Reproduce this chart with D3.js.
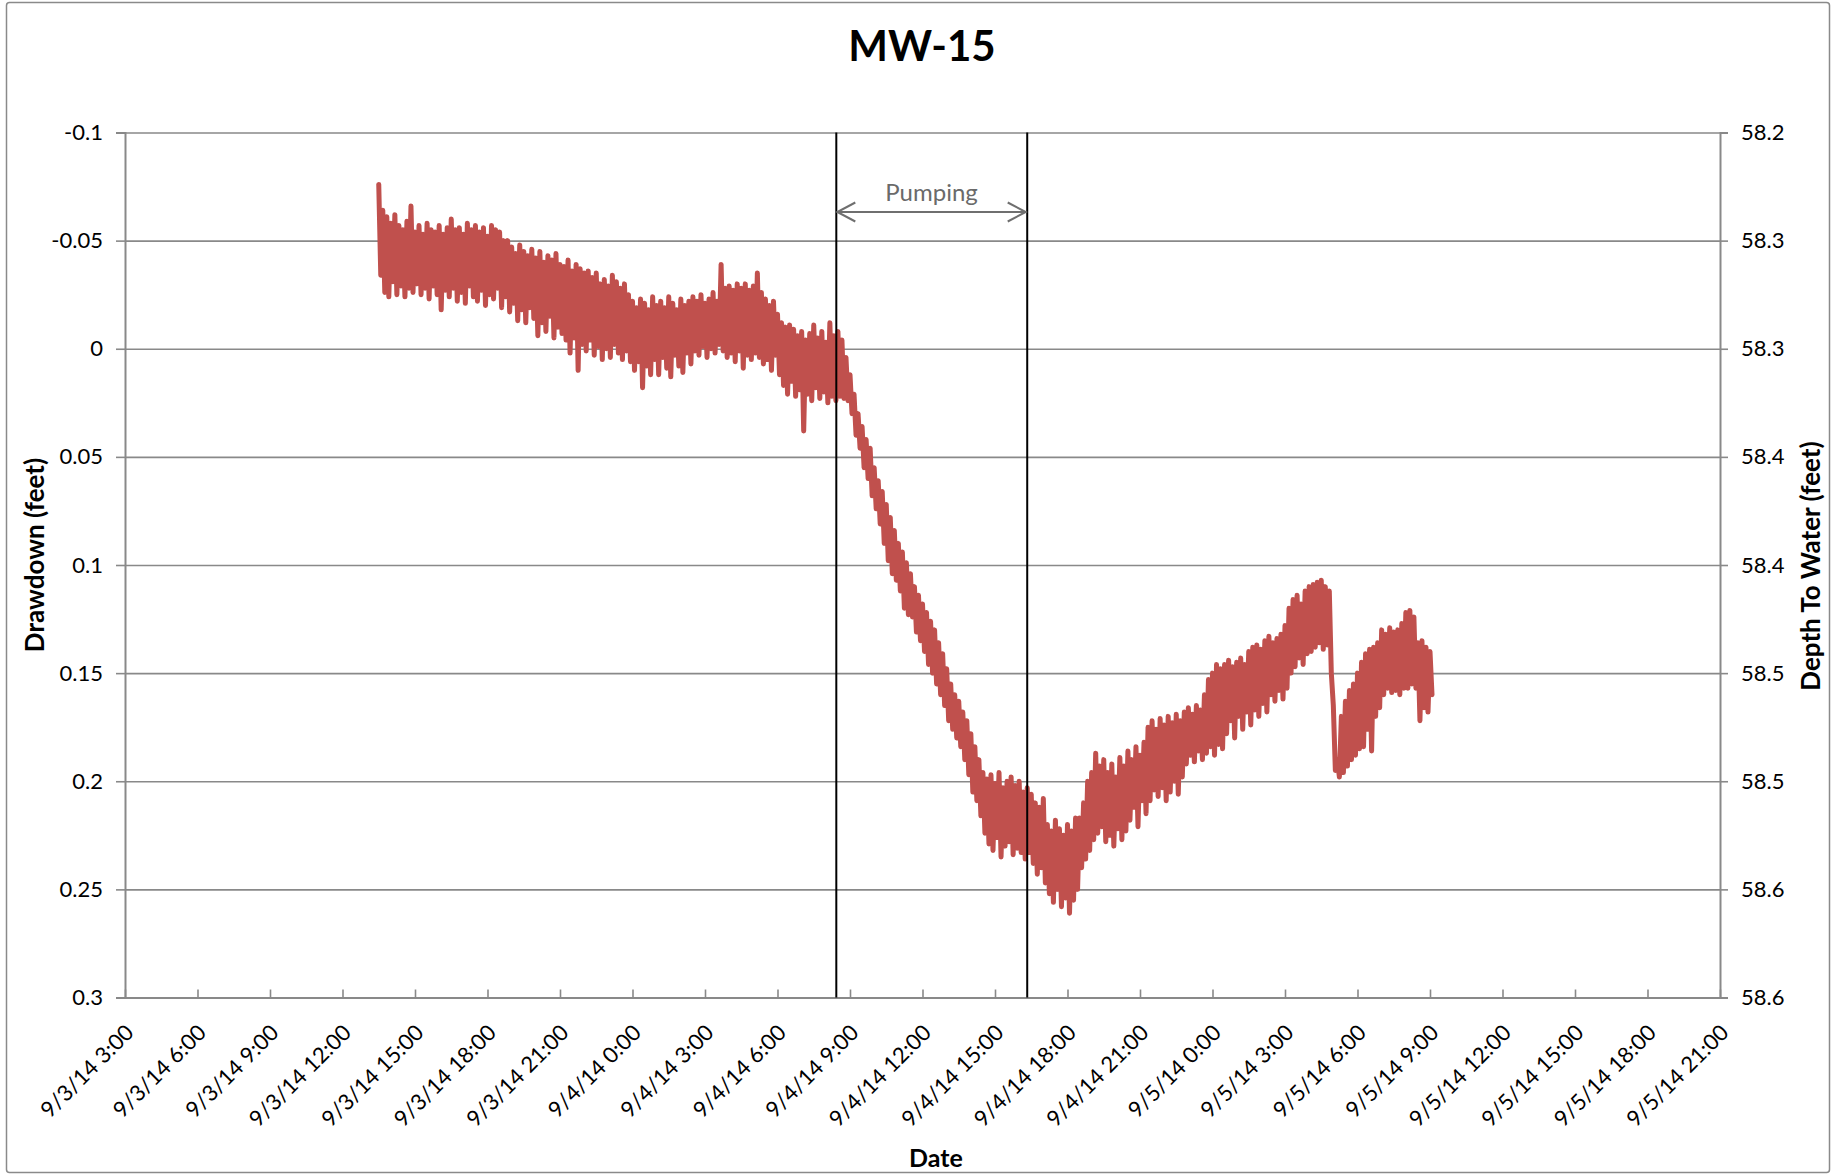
<!DOCTYPE html>
<html><head><meta charset="utf-8">
<script src="https://cdn.jsdelivr.net/npm/d3@7"></script>
<style>
body{margin:0;background:#fff}
svg{display:block}
text{font-family:Lato,"Open Sans",sans-serif}
</style>
</head><body>
<svg id="chart" width="1835" height="1176"></svg>
<script>
const chartTitle = "MW-15";
const xAxisTitle = "Date";
const leftAxisTitle = "Drawdown (feet)";
const rightAxisTitle = "Depth To Water (feet)";
const xTickLabels = ["9/3/14 3:00","9/3/14 6:00","9/3/14 9:00","9/3/14 12:00","9/3/14 15:00","9/3/14 18:00","9/3/14 21:00",
  "9/4/14 0:00","9/4/14 3:00","9/4/14 6:00","9/4/14 9:00","9/4/14 12:00","9/4/14 15:00","9/4/14 18:00","9/4/14 21:00",
  "9/5/14 0:00","9/5/14 3:00","9/5/14 6:00","9/5/14 9:00","9/5/14 12:00","9/5/14 15:00","9/5/14 18:00","9/5/14 21:00"];
const leftTickLabels = ["-0.1","-0.05","0","0.05","0.1","0.15","0.2","0.25","0.3"];
const rightTickValues = [58.2,58.25,58.3,58.35,58.4,58.45,58.5,58.55,58.6];
const rightTickLabels = ["58.2","58.3","58.3","58.4","58.4","58.5","58.5","58.6","58.6"];
const pumpingPeriod = ["9/4/14 8:26","9/4/14 16:20"];
const pumpingLabel = "Pumping";
const sampleMinutes = 5;
const seriesStarts = ["9/3/14 13:30","9/4/14 0:00","9/5/14 0:00"];
// drawdown readings (feet), every 5 minutes
const drawdown_0903 = [
 -0.076,-0.034,-0.064,-0.026,-0.061,-0.024,-0.058,-0.031,-0.062,-0.025,
 -0.057,-0.029,-0.055,-0.024,-0.059,-0.028,-0.066,-0.026,-0.054,-0.030,
 -0.057,-0.025,-0.053,-0.028,-0.058,-0.023,-0.055,-0.029,-0.054,-0.025,
 -0.057,-0.018,-0.053,-0.027,-0.056,-0.024,-0.060,-0.028,-0.055,-0.022,
 -0.056,-0.026,-0.053,-0.021,-0.058,-0.029,-0.055,-0.024,-0.057,-0.022,
 -0.054,-0.027,-0.056,-0.020,-0.052,-0.025,-0.057,-0.023,-0.055,-0.028,
 -0.054,-0.019,-0.050,-0.024,-0.050,-0.017,-0.047,-0.021,-0.044,-0.013,
 -0.048,-0.018,-0.045,-0.012,-0.043,-0.019,-0.046,-0.014,-0.042,-0.006,
 -0.045,-0.012,-0.040,-0.008,-0.043,-0.015,-0.041,-0.005,-0.044,-0.010,
 -0.039,-0.007,-0.038,-0.004,-0.041,0.002,-0.036,-0.005,-0.039,0.010,
 -0.037,-0.002,-0.035,0.001,-0.036,-0.004,-0.033,0.003,-0.035,-0.001,
 -0.030,0.005,-0.032,0.000,-0.029,0.004,-0.034,-0.002,-0.031,0.002,
 -0.028,0.005,-0.030,0.001,-0.025,0.006];
const drawdown_0904 = [
 -0.022,0.010,-0.019,0.006,-0.023,0.018,-0.021,0.008,-0.018,0.012,
 -0.024,0.005,-0.020,0.012,-0.022,0.004,-0.019,0.009,-0.024,0.013,
 -0.021,0.003,-0.018,0.008,-0.023,0.011,-0.020,0.002,-0.022,0.007,
 -0.024,0.001,-0.022,0.003,-0.025,-0.001,-0.021,0.004,-0.023,0.000,
 -0.026,0.002,-0.022,-0.002,-0.039,0.001,-0.028,0.004,-0.029,0.002,
 -0.027,0.006,-0.030,0.001,-0.028,0.009,-0.030,0.003,-0.027,0.005,
 -0.029,0.002,-0.035,0.004,-0.026,0.007,-0.023,0.005,-0.020,0.010,
 -0.022,0.003,-0.016,0.012,-0.012,0.017,-0.010,0.021,-0.011,0.015,
 -0.009,0.022,-0.006,0.019,-0.008,0.038,-0.004,0.021,-0.007,0.024,
 -0.011,0.018,-0.005,0.023,-0.008,0.020,-0.003,0.025,-0.012,0.022,
 -0.006,0.024,-0.008,0.022,-0.004,0.023,0.004,0.024,0.012,0.030,
 0.021,0.040,0.030,0.046,0.036,0.055,0.042,0.060,0.046,0.068,
 0.055,0.074,0.061,0.081,0.066,0.090,0.072,0.098,0.078,0.104,
 0.084,0.107,0.090,0.112,0.094,0.120,0.099,0.123,0.104,0.124,
 0.110,0.131,0.114,0.135,0.118,0.140,0.122,0.146,0.126,0.150,
 0.130,0.155,0.136,0.160,0.141,0.165,0.148,0.172,0.155,0.176,
 0.160,0.180,0.163,0.184,0.168,0.190,0.172,0.197,0.178,0.205,
 0.184,0.209,0.190,0.216,0.196,0.224,0.199,0.229,0.197,0.232,
 0.201,0.226,0.196,0.235,0.203,0.230,0.200,0.228,0.198,0.234,
 0.202,0.231,0.200,0.233,0.205,0.236,0.203,0.233,0.206,0.238,
 0.210,0.243,0.212,0.240,0.208,0.247,0.220,0.252,0.223,0.256,
 0.218,0.250,0.222,0.258,0.225,0.254,0.220,0.261,0.223,0.255,
 0.217,0.250,0.217,0.240,0.210,0.236,0.200,0.232,0.196,0.227,
 0.187,0.224,0.193,0.221,0.190,0.228,0.196,0.225,0.192,0.230,
 0.198,0.222,0.189,0.227,0.193,0.223,0.186,0.218,0.190,0.212,
 0.184,0.221,0.188,0.209,0.182,0.215,0.175,0.209,0.172,0.204,
 0.176,0.207,0.171,0.203,0.174,0.209,0.170,0.205,0.173,0.200,
 0.169,0.206,0.172,0.198,0.168,0.192,0.166,0.188,0.169,0.191,
 0.165,0.186,0.167,0.190,0.160,0.187,0.153,0.184];
const drawdown_0905 = [
 0.150,0.188,0.146,0.183,0.148,0.185,0.146,0.178,0.144,0.172,
 0.147,0.180,0.145,0.170,0.143,0.176,0.146,0.168,0.140,0.174,
 0.138,0.167,0.137,0.170,0.139,0.164,0.135,0.168,0.133,0.160,
 0.136,0.163,0.134,0.158,0.132,0.162,0.128,0.157,0.120,0.150,
 0.116,0.147,0.114,0.143,0.118,0.146,0.112,0.141,0.110,0.140,
 0.109,0.138,0.108,0.136,0.107,0.139,0.110,0.137,0.112,0.150,
 0.165,0.195,0.190,0.198,0.170,0.196,0.163,0.193,0.158,0.190,
 0.155,0.188,0.150,0.185,0.145,0.184,0.141,0.176,0.139,0.186,
 0.138,0.170,0.136,0.166,0.130,0.160,0.132,0.157,0.129,0.159,
 0.131,0.158,0.130,0.160,0.127,0.157,0.122,0.157,0.121,0.155,
 0.124,0.157,0.136,0.172,0.135,0.166,0.138,0.168,0.140,0.160];

const parseT = d3.timeParse("%m/%d/%y %H:%M");
const W = 1835, H = 1176;
const M = {left:125, right:1720, top:132.5, bottom:997.5};
const gridColor = "#898989";
const lineColor = "#C0504D";

const svg = d3.select("#chart");
svg.append("rect").attr("width",W).attr("height",H).attr("fill","#fff");
svg.append("rect").attr("x",6.5).attr("y",2.5).attr("width",1823).attr("height",1170)
  .attr("fill","none").attr("stroke","#8a8a8a").attr("stroke-width",1.5).attr("rx",3);

const xDates = xTickLabels.map(parseT);
const x = d3.scaleTime().domain([xDates[0], xDates[xDates.length-1]]).range([M.left, M.right]);
const leftVals = leftTickLabels.map(Number);
const yL = d3.scaleLinear().domain([leftVals[0], leftVals[leftVals.length-1]]).range([M.top, M.bottom]);
const yR = d3.scaleLinear().domain([rightTickValues[0], rightTickValues[rightTickValues.length-1]]).range([M.top, M.bottom]);

// gridlines
const grid = svg.append("g").attr("transform",`translate(${M.left},0)`)
  .call(d3.axisLeft(yL).tickValues(leftVals).tickSize(-(M.right-M.left)).tickFormat(""));
grid.select(".domain").remove();
grid.selectAll("line").attr("stroke",gridColor).attr("stroke-width",1.6);

// left axis
const gL = svg.append("g").attr("transform",`translate(${M.left},0)`)
  .call(d3.axisLeft(yL).tickValues(leftVals).tickSize(9).tickPadding(13).tickFormat((d,i)=>leftTickLabels[i]));
gL.select(".domain").attr("stroke",gridColor).attr("stroke-width",2);
gL.selectAll("line").attr("stroke",gridColor).attr("stroke-width",1.6);
gL.selectAll("text").attr("font-size",22).attr("fill","#000").attr("font-family","Lato");

// right axis
const gR = svg.append("g").attr("transform",`translate(${M.right},0)`)
  .call(d3.axisRight(yR).tickValues(rightTickValues).tickSize(8).tickPadding(13).tickFormat((d,i)=>rightTickLabels[i]));
gR.select(".domain").attr("stroke",gridColor).attr("stroke-width",2);
gR.selectAll("line").attr("stroke",gridColor).attr("stroke-width",1.6);
gR.selectAll("text").attr("font-size",22).attr("fill","#000").attr("font-family","Lato");

// bottom axis
const gB = svg.append("g").attr("transform",`translate(0,${M.bottom})`)
  .call(d3.axisBottom(x).tickValues(xDates).tickSizeInner(-8).tickSizeOuter(0).tickFormat((d,i)=>xTickLabels[i]));
gB.select(".domain").attr("stroke",gridColor).attr("stroke-width",2.2);
gB.selectAll("line").attr("stroke",gridColor).attr("stroke-width",1.6);
gB.selectAll("text").attr("font-size",22).attr("fill","#000").attr("font-family","Lato")
  .attr("y",0).attr("dy","0.35em").attr("text-anchor","end")
  .attr("transform","translate(4,31) rotate(-45)");

// data
const series = [drawdown_0903, drawdown_0904, drawdown_0905].flatMap((arr, d) => {
  const s = parseT(seriesStarts[d]);
  return arr.map((v, k) => ({t: d3.timeMinute.offset(s, k*sampleMinutes), v}));
});
const line = d3.line().x(d=>x(d.t)).y(d=>yL(d.v));
svg.append("path").datum(series).attr("d",line).attr("fill","none")
  .attr("stroke",lineColor).attr("stroke-width",5).attr("stroke-linejoin","round").attr("stroke-linecap","round");

// pumping lines
const pDates = pumpingPeriod.map(parseT);
svg.selectAll(".pump").data(pDates).enter().append("line")
  .attr("x1",d=>x(d)).attr("x2",d=>x(d)).attr("y1",M.top).attr("y2",M.bottom)
  .attr("stroke","#000").attr("stroke-width",2);

const ay = 212, px1 = x(pDates[0]) + 1, px2 = x(pDates[1]) - 1.5;
const arrowColor = "#6f6f6f";
svg.append("line").attr("x1",px1).attr("x2",px2).attr("y1",ay).attr("y2",ay)
  .attr("stroke",arrowColor).attr("stroke-width",2);
svg.append("path").attr("d",`M${px1+18},${ay-9.5}L${px1},${ay}L${px1+18},${ay+9.5}`)
  .attr("fill","none").attr("stroke",arrowColor).attr("stroke-width",2);
svg.append("path").attr("d",`M${px2-18},${ay-9.5}L${px2},${ay}L${px2-18},${ay+9.5}`)
  .attr("fill","none").attr("stroke",arrowColor).attr("stroke-width",2);
svg.append("text").attr("x",(px1+px2)/2).attr("y",201).attr("text-anchor","middle")
  .attr("font-size",24).attr("fill","#6a6a6a").text(pumpingLabel);

// titles
svg.append("text").attr("x",922).attr("y",61).attr("text-anchor","middle")
  .attr("font-size",42).attr("font-weight","bold").attr("fill","#000").text(chartTitle);
svg.append("text").attr("x",936).attr("y",1167).attr("text-anchor","middle")
  .attr("font-size",25).attr("font-weight","bold").attr("fill","#000").text(xAxisTitle);
svg.append("text").attr("transform","translate(34,555) rotate(-90)").attr("text-anchor","middle")
  .attr("dominant-baseline","central").attr("font-size",26).attr("font-weight","bold").attr("fill","#000").text(leftAxisTitle);
svg.append("text").attr("transform","translate(1810,566) rotate(-90)").attr("text-anchor","middle")
  .attr("dominant-baseline","central").attr("font-size",26).attr("font-weight","bold").attr("fill","#000").text(rightAxisTitle);
</script>
</body></html>
